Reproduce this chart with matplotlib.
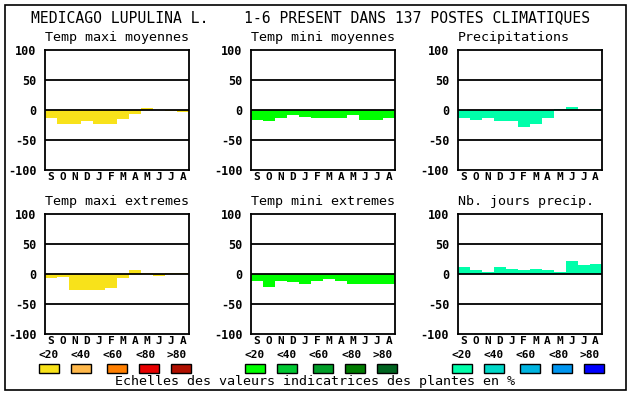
import matplotlib
matplotlib.use("Agg")
import matplotlib.pyplot as plt
from matplotlib.patches import Rectangle

W, H = 630, 394

months = ["S", "O", "N", "D", "J", "F", "M", "A", "M", "J", "J", "A"]
yticks = [100, 50, 0, -50, -100]

titles = ["Temp maxi moyennes", "Temp mini moyennes", "Precipitations",
          "Temp maxi extremes", "Temp mini extremes", "Nb. jours precip."]

tmax_moy = [-13, -23, -23, -18, -23, -23, -15, -6, 3, 0, -2, -4]
tmin_moy = [-16, -18, -13, -9, -11, -14, -13, -13, -9, -17, -17, -13]
precip = [-13, -16, -14, -18, -18, -28, -23, -14, 2, 5, 0, 2]
tmax_ext = [-7, -5, -26, -26, -26, -24, -6, 6, 2, -3, 2, 2]
tmin_ext = [-11, -21, -11, -14, -17, -12, -8, -11, -16, -17, -17, -16]
nb_jours = [12, 6, 4, 11, 8, 6, 8, 6, 4, 21, 15, 16]

series = [tmax_moy, tmin_moy, precip, tmax_ext, tmin_ext, nb_jours]

scale_labels = ["<20", "<40", "<60", "<80", ">80"]
warm = ["#f8e21a", "#ffb84a", "#ff7f00", "#e80000", "#b01000"]
green = ["#00ff00", "#00c832", "#009e28", "#007c00", "#006420"]
blue = ["#00ffaa", "#00d8c8", "#00b4e0", "#0096f0", "#0000ff"]
palettes = [warm, green, blue]

title = "MEDICAGO LUPULINA L.    1-6 PRESENT DANS 137 POSTES CLIMATIQUES"
footer = "Echelles des valeurs indicatrices des plantes en %"

mono = "DejaVu Sans Mono"


def fx(x):
    return x / W


def fy(y):
    return 1 - y / H


fig = plt.figure(figsize=(W / 100, H / 100), dpi=100)
fig.patch.set_facecolor("white")

# outer frame
fig.add_artist(Rectangle((fx(5), fy(390)), fx(621), 385 / H, transform=fig.transFigure,
                         fill=False, edgecolor="black", lw=1.2))

fig.text(fx(31), fy(18), title, family=mono, fontsize=10.6, va="center", ha="left")

lefts = [45, 251, 457.5]
tops = [50, 214]
pw, ph = 144, 120

for i, (name, vals) in enumerate(zip(titles, series)):
    col, row = i % 3, i // 3
    left, top = lefts[col], tops[row]
    ax = fig.add_axes([fx(left), fy(top + ph), fx(pw), ph / H])
    ax.bar(range(12), vals, width=1.0, color=palettes[col][0], zorder=1)
    for g in (50, 0, -50):
        ax.axhline(g, color="black", lw=1.3, zorder=3)
    ax.set_xlim(-0.5, 11.5)
    ax.set_ylim(-100, 100)
    ax.set_yticks(yticks)
    ax.set_yticklabels([str(t) for t in yticks], family=mono, fontweight="bold", fontsize=8.5)
    ax.set_xticks(range(12))
    ax.set_xticklabels(months, family=mono, fontweight="bold", fontsize=8)
    ax.tick_params(axis="x", length=0, pad=1.5)
    ax.tick_params(axis="y", length=0, pad=6)
    for s in ax.spines.values():
        s.set_linewidth(1.3)
    fig.text(fx(left), fy(top - 12), name, family=mono, fontsize=9.6, va="center", ha="left")

# colour scales
label_dx = [4, 36, 68, 101, 132]
box_dx = [-6, 26, 62, 94, 126]
for col in range(3):
    left = lefts[col]
    for k, lab in enumerate(scale_labels):
        fig.text(fx(left + label_dx[k]), fy(355), lab, family=mono, fontweight="bold",
                 fontsize=8, ha="center", va="center")
        fig.add_artist(Rectangle((fx(left + box_dx[k]), fy(373)), fx(20), 9 / H,
                                 transform=fig.transFigure, facecolor=palettes[col][k],
                                 edgecolor="black", lw=1))

fig.text(fx(115), fy(382), footer, family=mono, fontsize=9.6, ha="left", va="center")

fig.savefig("out.png", dpi=100)
